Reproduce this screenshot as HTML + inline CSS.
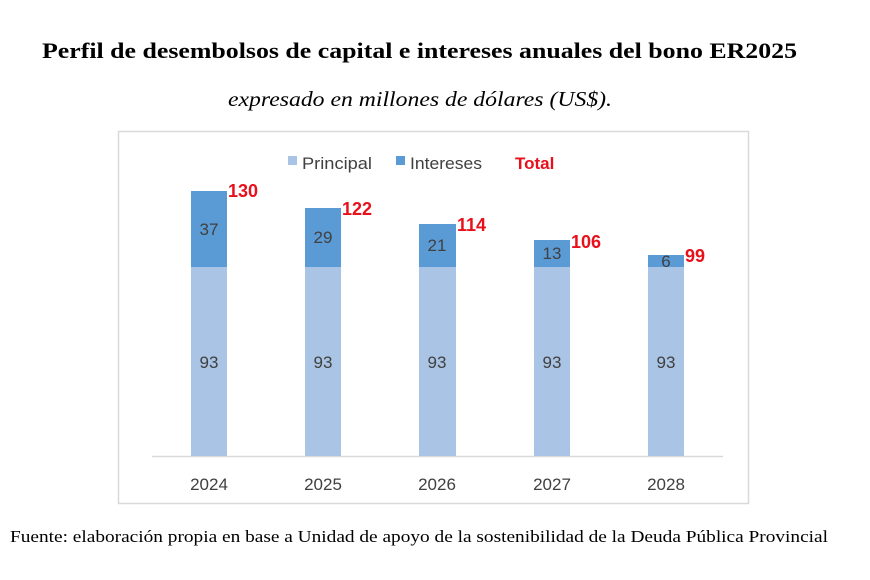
<!DOCTYPE html>
<html><head><meta charset="utf-8"><style>
body{margin:0;width:870px;height:580px;background:#fff;overflow:hidden;position:relative}
</style></head><body>
<svg width="870" height="580" style="position:absolute;left:0;top:0" font-family="Liberation Sans, sans-serif">
<text x="42" y="58" font-family="Liberation Serif, serif" font-size="22" font-weight="bold" textLength="755" lengthAdjust="spacingAndGlyphs">Perfil de desembolsos de capital e intereses anuales del bono ER2025</text>
<text x="228" y="106" font-family="Liberation Serif, serif" font-size="21" font-style="italic" textLength="384" lengthAdjust="spacingAndGlyphs">expresado en millones de dólares (US$).</text>
<text x="10" y="542" font-family="Liberation Serif, serif" font-size="17" textLength="818" lengthAdjust="spacingAndGlyphs">Fuente: elaboración propia en base a Unidad de apoyo de la sostenibilidad de la Deuda Pública Provincial</text>
<rect x="118.5" y="131.5" width="630" height="372" fill="none" stroke="#d9d9d9" stroke-width="1.5"/>
<line x1="152" y1="456.5" x2="723" y2="456.5" stroke="#d9d9d9" stroke-width="1.5"/>
<rect x="288" y="156" width="9" height="9" fill="#a9c4e4"/>
<text x="302" y="169" font-size="17" fill="#404040" textLength="70" lengthAdjust="spacingAndGlyphs">Principal</text>
<rect x="396" y="156" width="9" height="9" fill="#5b9bd5"/>
<text x="410" y="169" font-size="17" fill="#404040" textLength="72" lengthAdjust="spacingAndGlyphs">Intereses</text>
<text x="515" y="169" font-size="17" font-weight="bold" fill="#e8101a">Total</text>
<g font-size="17" fill="#404040" text-anchor="middle">
<rect x="191" y="267" width="36" height="189" fill="#a9c4e4"/><rect x="191" y="191" width="36" height="76" fill="#5b9bd5"/>
<text x="209" y="368">93</text><text x="209" y="235">37</text><text x="209" y="490">2024</text>
<rect x="305" y="267" width="36" height="189" fill="#a9c4e4"/><rect x="305" y="208" width="36" height="59" fill="#5b9bd5"/>
<text x="323" y="368">93</text><text x="323" y="243">29</text><text x="323" y="490">2025</text>
<rect x="419" y="267" width="37" height="189" fill="#a9c4e4"/><rect x="419" y="224" width="37" height="43" fill="#5b9bd5"/>
<text x="437" y="368">93</text><text x="437" y="251">21</text><text x="437" y="490">2026</text>
<rect x="534" y="267" width="36" height="189" fill="#a9c4e4"/><rect x="534" y="240" width="36" height="27" fill="#5b9bd5"/>
<text x="552" y="368">93</text><text x="552" y="259">13</text><text x="552" y="490">2027</text>
<rect x="648" y="267" width="36" height="189" fill="#a9c4e4"/><rect x="648" y="255" width="36" height="12" fill="#5b9bd5"/>
<text x="666" y="368">93</text><text x="666" y="267">6</text><text x="666" y="490">2028</text>
</g>
<g font-size="18" font-weight="bold" fill="#e8101a">
<text x="228" y="197">130</text><text x="342" y="215">122</text><text x="457" y="231">114</text><text x="571" y="248">106</text><text x="685" y="262">99</text>
</g>
</svg>
</body></html>
